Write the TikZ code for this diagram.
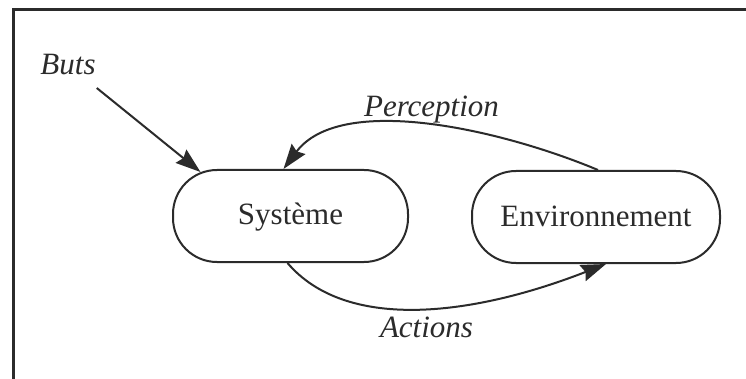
\documentclass[tikz,border=0pt]{standalone}
\usepackage{fontspec}
\setmainfont{Liberation Serif}
\usetikzlibrary{arrows.meta}
\definecolor{ink}{HTML}{2B2B2B}
\tikzset{
  statebox/.style={draw=ink, line width=2pt, rounded corners=44pt, inner sep=0pt,
    font=\fontsize{31}{31}\selectfont, text=ink, text height=22pt, text depth=4pt},
  lbl/.style={font=\fontsize{31}{31}\selectfont\itshape, text=ink, anchor=base, inner sep=0pt},
  conn/.style={draw=ink, line width=2pt, -{Stealth[length=25pt,width=17pt,inset=3pt]}},
  frame/.style={draw=ink, line width=3pt}
}
\begin{document}
\begin{tikzpicture}[x=1pt,y=-1pt]
\useasboundingbox[fill=white] (0,0) rectangle (746,379);
\draw[frame] (13,379) -- (13,10) -- (746,10);
\node[statebox, minimum width=235pt, minimum height=92pt] (sys) at (290.5,216) {Système};
\node[statebox, minimum width=248pt, minimum height=92pt] (env) at (596,217) {Environnement};
\node[lbl] (buts) at (68,75) {Buts};
\node[lbl] (perc) at (431.5,117) {Perception};
\node[lbl] (act) at (426.5,337) {Actions};
\coordinate (b0) at ([xshift=1pt,yshift=-13pt]buts.base east);
\draw[conn] (b0) -- ([xshift=-90pt,yshift=-3pt]sys.north);
\draw[conn] ([xshift=2pt]env.north) .. controls +(-98,-41) and +(57,-76) .. ([xshift=-7pt]sys.north);
\draw[conn] ([xshift=-3pt]sys.south) .. controls +(58,68) and +(-136,53) .. ([xshift=10pt]env.south);
\end{tikzpicture}
\end{document}
